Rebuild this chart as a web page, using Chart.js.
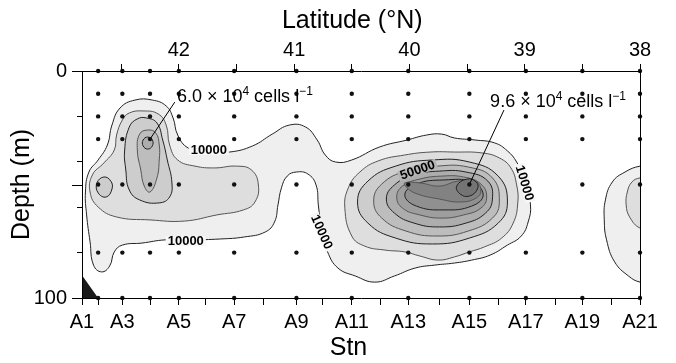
<!DOCTYPE html>
<html><head><meta charset="utf-8">
<script src="https://cdn.jsdelivr.net/npm/chart.js@4/dist/chart.umd.min.js"></script>
<style>html,body{margin:0;padding:0;background:#fff}#wrap{width:676px;height:363px}</style>
</head><body><div id="wrap"><canvas id="c"></canvas></div>
<script>
// ---------- data ----------
const stationNames = ['A1','A2','A3','A4','A5','A6','A7','A8','A9','A10','A11','A12','A13','A14','A15','A16','A17','A18','A19','A20','A21'];
const stationLat = [42.84,42.70,42.49,42.25,42.00,41.77,41.52,41.27,40.98,40.75,40.50,40.25,40.01,39.74,39.48,39.23,38.99,38.73,38.50,38.25,38.00];
const sampledStations = ['A2','A3','A4','A5','A7','A9','A11','A13','A15','A17','A19','A21'];
const sampleDepths = [0,10,20,30,50,80,100];
const latitudeLabels = [42,41,40,39,38];
const depthLabels = [0,50,100];

// contour outlines [latitude, depth]
const contour10k_main = [[40.50,39.2],[40.26,33.5],[40.02,30.4],[39.85,28.2],[39.72,27.8],[39.61,29.5],[39.43,30.4],[39.26,31.7],[39.15,35.2],[39.07,40.1],[39.00,48.0],[38.95,59.0],[38.97,66.5],[39.03,72.7],[39.15,76.7],[39.30,81.1],[39.46,83.3],[39.61,84.6],[39.78,85.5],[39.95,86.8],[40.13,90.3],[40.30,93.0],[40.47,90.3],[40.62,86.8],[40.71,79.7],[40.76,70.9],[40.79,59.0],[40.81,50.2],[40.88,45.4],[40.98,44.5],[41.06,46.3],[41.11,51.5],[41.14,59.0],[41.17,66.5],[41.25,70.9],[41.43,73.1],[41.64,74.0],[41.90,74.4],[42.12,74.4],[42.32,75.8],[42.49,76.7],[42.56,79.7],[42.60,85.9],[42.67,88.5],[42.74,85.5],[42.77,75.3],[42.80,63.4],[42.81,53.3],[42.78,44.5],[42.70,39.2],[42.62,32.6],[42.58,23.8],[42.51,16.3],[42.38,12.8],[42.23,12.8],[42.11,15.4],[42.05,20.7],[42.01,28.2],[41.92,33.9],[41.77,35.7],[41.56,35.7],[41.36,33.0],[41.19,27.8],[41.04,23.8],[40.90,24.7],[40.80,30.4],[40.73,37.0],[40.64,40.1]];
const contour20k_west = [[42.31,17.6],[42.18,18.9],[42.11,23.8],[42.08,32.6],[42.01,39.2],[41.86,41.9],[41.69,42.7],[41.50,41.9],[41.37,43.6],[41.31,50.2],[41.34,57.7],[41.44,61.2],[41.67,63.4],[41.95,66.1],[42.25,65.6],[42.54,64.3],[42.70,59.9],[42.77,53.3],[42.75,45.8],[42.65,40.5],[42.56,34.8],[42.54,28.2],[42.49,21.6],[42.43,18.5]];
const contour30k_west = [[42.28,20.7],[42.19,22.9],[42.14,30.4],[42.10,39.2],[42.06,49.3],[42.08,55.5],[42.17,58.1],[42.34,56.8],[42.43,52.4],[42.46,43.6],[42.47,34.8],[42.43,24.7],[42.36,21.1]];
const contour30k_a2 = [[42.65,46.7],[42.59,48.5],[42.58,52.0],[42.63,55.5],[42.70,53.7],[42.71,49.3]];
const contour40k_west = [[42.27,26.0],[42.20,27.3],[42.17,32.6],[42.17,39.2],[42.19,47.1],[42.25,53.3],[42.30,50.7],[42.33,43.6],[42.36,34.8],[42.34,27.8]];
const contour50k_west = [[42.27,29.1],[42.23,30.4],[42.23,33.0],[42.27,34.4],[42.31,33.0],[42.31,30.4]];
const contour20k_east = [[40.56,60.4],[40.53,51.5],[40.43,44.5],[40.27,39.6],[40.04,37.0],[39.82,35.7],[39.61,35.7],[39.37,36.1],[39.22,38.3],[39.12,42.7],[39.07,50.2],[39.06,58.1],[39.10,67.0],[39.20,73.6],[39.35,77.5],[39.48,79.7],[39.61,81.9],[39.75,83.3],[39.91,81.5],[40.04,79.7],[40.21,78.9],[40.39,77.1],[40.50,72.7]];
const contour30k_east = [[39.15,57.7],[39.23,67.0],[39.48,73.6],[39.80,76.2],[40.12,73.6],[40.36,67.0],[40.45,57.7],[40.36,48.5],[40.12,41.9],[39.80,39.2],[39.48,40.1],[39.23,46.3]];
const contour40k_east = [[39.22,57.3],[39.28,64.8],[39.49,70.5],[39.76,72.7],[40.03,70.5],[40.24,64.8],[40.31,57.3],[40.24,49.8],[40.03,44.1],[39.76,41.9],[39.49,42.3],[39.28,47.1]];
const contour50k_east = [[39.28,56.4],[39.34,62.6],[39.51,67.0],[39.74,68.7],[39.96,67.0],[40.13,62.6],[40.20,56.4],[40.13,50.2],[39.96,45.8],[39.74,44.1],[39.51,44.5],[39.32,48.5]];
const contour60k_east = [[39.33,55.5],[39.38,60.4],[39.53,63.4],[39.72,64.8],[39.91,63.4],[40.06,60.4],[40.11,55.5],[40.06,50.7],[39.91,47.6],[39.72,46.3],[39.53,46.7],[39.38,49.8]];
const contour70k_east = [[39.36,54.6],[39.46,59.5],[39.70,61.2],[39.94,59.5],[40.04,54.6],[39.94,49.8],[39.70,48.0],[39.46,48.9]];
const contour80k_east = [[40.04,49.3],[39.91,49.3],[39.74,50.7],[39.58,48.5],[39.43,48.5],[39.38,52.4],[39.42,55.9],[39.56,57.7],[39.74,56.4],[39.93,54.2],[40.02,51.5]];
const contour90k_east = [[39.50,47.6],[39.42,48.9],[39.41,52.0],[39.48,55.1],[39.56,54.2],[39.59,50.7]];
const contour10k_south = [[38.00,41.9],[38.13,44.5],[38.24,48.9],[38.30,56.8],[38.31,65.6],[38.29,74.4],[38.22,84.1],[38.10,90.3],[38.00,93.0],[37.90,93.0],[37.90,42.0]];
const contour20k_south = [[38.00,47.1],[38.07,48.9],[38.11,53.3],[38.12,59.0],[38.09,64.3],[38.00,69.2],[37.90,69.2],[37.90,47.1]];
const bottomTopo = [[42.84,90],[42.84,100],[42.70,100]];
const peakWest = [42.25,30];
const peakEast = [39.48,50];
const leaderWestEnd = [42.035,13.7];
const leaderEastEnd = [39.18,17.2];

// ---------- helpers ----------
const P = a => a.map(([x,y]) => ({x, y}));
const levelFill = ['#efefef','#dedede','#cdcdcd','#bdbdbd','#adadad','#9e9e9e','#909090','#828282','#747474'];
const levelLine = ['#222','#555','#222','#555','#222','#555','#222','#555','#222'];
function contourDs(pts, level){
  return {data:P(pts), showLine:true, fill:'shape', backgroundColor:levelFill[level-1],
    borderColor:levelLine[level-1], borderWidth:1, pointRadius:0, tension:0.45, closed:true, order:30-level};
}
const dots = [];
sampledStations.forEach(s => { const lat = stationLat[stationNames.indexOf(s)]; sampleDepths.forEach(d => dots.push({x:lat, y:d})); });

const datasets = [
  {data:dots, pointRadius:2.2, pointBackgroundColor:'#111', pointBorderWidth:0, showLine:false, order:0, clip:6},
  {data:P([peakWest, leaderWestEnd]), showLine:true, borderColor:'#000', borderWidth:1, pointRadius:0, order:1},
  {data:P([peakEast, leaderEastEnd]), showLine:true, borderColor:'#000', borderWidth:1, pointRadius:0, order:1},
  {data:P(bottomTopo), showLine:true, fill:'shape', backgroundColor:'#1a1a1a', borderColor:'#1a1a1a', borderWidth:1, pointRadius:0, tension:0, order:2},
  contourDs(contour10k_main,1),
  contourDs(contour10k_south,1),
  contourDs(contour20k_west,2),
  contourDs(contour20k_east,2),
  contourDs(contour20k_south,2),
  contourDs(contour30k_west,3),
  contourDs(contour30k_a2,3),
  contourDs(contour30k_east,3),
  contourDs(contour40k_west,4),
  contourDs(contour40k_east,4),
  contourDs(contour50k_west,5),
  contourDs(contour50k_east,5),
  contourDs(contour60k_east,6),
  contourDs(contour70k_east,7),
  contourDs(contour80k_east,8),
  contourDs(contour90k_east,9)
];

const loopPlugin = {
  id:'loop',
  afterDatasetUpdate(chart, args){
    const ds = chart.data.datasets[args.index];
    if (ds.closed) { args.meta.dataset._loop = true; args.meta.dataset._fullLoop = true; }
  }
};

const contourLabels = [
  {text:'10000', at:[41.74,34.8], rot:0, bg:'#f7f7f7'},
  {text:'10000', at:[41.94,74.9], rot:0, bg:'#f7f7f7'},
  {text:'10000', at:[40.76,70.9], rot:66, bg:'#f7f7f7'},
  {text:'10000', at:[39.00,49.3], rot:73, bg:'#f7f7f7'},
  {text:'50000', at:[39.93,43.6], rot:-19, bg:'#b5b5b5'}
];
const annotations = [
  {at:[42.017,13.7], parts:[['6.0 × 10',0],['4',1],[' cells l',0],['\u22121',1]]},
  {at:[39.30,15.9], parts:[['9.6 × 10',0],['4',1],[' cells l',0],['\u22121',1]]}
];
const FONT = "'Liberation Sans', Arial, Helvetica, sans-serif";

const overlayPlugin = {
  id:'overlay',
  afterDraw(chart){
    const {ctx, scales:{x, y}, chartArea} = chart;
    ctx.save();
    ctx.strokeStyle = '#000'; ctx.lineWidth = 1;
    depthLabels.forEach(v => { const py = Math.round(y.getPixelForValue(v)) + 0.5; ctx.beginPath(); ctx.moveTo(chartArea.left - 10, py); ctx.lineTo(chartArea.left, py); ctx.stroke(); });
    ctx.font = 'bold 13px ' + FONT; ctx.textAlign = 'center'; ctx.textBaseline = 'middle';
    contourLabels.forEach(l => {
      const px = x.getPixelForValue(l.at[0]), py = y.getPixelForValue(l.at[1]);
      ctx.save(); ctx.translate(px, py); ctx.rotate(l.rot * Math.PI / 180);
      const w = ctx.measureText(l.text).width;
      ctx.fillStyle = l.bg; ctx.fillRect(-w/2 - 2, -5, w + 4, 10);
      ctx.fillStyle = '#000'; ctx.fillText(l.text, 0, 0.5);
      ctx.restore();
    });
    ctx.textAlign = 'left'; ctx.textBaseline = 'alphabetic'; ctx.fillStyle = '#000';
    annotations.forEach(a => {
      let px = x.getPixelForValue(a.at[0]); const py = y.getPixelForValue(a.at[1]);
      a.parts.forEach(([t, sup]) => {
        ctx.font = (sup ? '12px ' : '18px ') + FONT;
        ctx.fillText(t, px, sup ? py - 7 : py);
        px += ctx.measureText(t).width;
      });
    });
    ctx.restore();
  }
};

const axisCommon = {min:38, max:stationLat[0], reverse:true};
new Chart(document.getElementById('c'), {
  type:'scatter',
  data:{datasets},
  plugins:[loopPlugin, overlayPlugin],
  options:{
    responsive:true, maintainAspectRatio:false, animation:false,
    layout:{padding:{left:0, right:36, top:0, bottom:0}},
    plugins:{legend:{display:false}, tooltip:{enabled:false}},
    scales:{
      x:{type:'linear', position:'bottom', ...axisCommon,
        afterBuildTicks: s => { s.ticks = stationLat.map(v => ({value:v})); },
        afterFit: s => { s.height = 65; },
        ticks:{autoSkip:false, maxRotation:0, padding:5, color:'#000', font:{size:20, family:FONT},
          callback:(v, i) => (i % 2 === 0 ? stationNames[i] : '')},
        grid:{drawOnChartArea:false, color:'#000', tickLength:7},
        border:{color:'#000', width:1, z:1},
        title:{display:true, text:'Stn\u2002\u2002', color:'#000', font:{size:25, family:FONT}, padding:{top:0, bottom:0}}
      },
      x2:{type:'linear', position:'top', axis:'x', ...axisCommon,
        afterBuildTicks: s => { const t = []; for (let v = 38; v <= 42.5 + 1e-9; v += 0.5) t.push({value:v}); s.ticks = t; },
        afterFit: s => { s.height = 71; },
        ticks:{autoSkip:false, maxRotation:0, padding:2, color:'#000', font:{size:20, family:FONT},
          callback:v => (latitudeLabels.includes(Math.round(v*10)/10) ? String(v) : '')},
        grid:{drawOnChartArea:false, color:'#000', tickLength:7},
        border:{color:'#000', width:1, z:1},
        title:{display:true, text:'Latitude (°N)\u2002\u2009', color:'#000', font:{size:25, family:FONT}, padding:{top:6, bottom:0}}
      },
      y:{type:'linear', position:'left', min:0, max:100, reverse:true,
        afterFit: s => { s.width = 82; },
        ticks:{stepSize:10, padding:10, color:'#000', font:{size:20, family:FONT},
          callback:v => (depthLabels.includes(v) ? String(v) : '')},
        grid:{drawOnChartArea:false, color:'#000', tickLength:5},
        border:{color:'#000', width:1, z:1},
        title:{display:true, text:'Depth (m)', color:'#000', font:{size:25, family:FONT}, padding:{top:7, bottom:0}}
      },
      y2:{type:'linear', position:'right', axis:'y', min:0, max:100, reverse:true,
        afterFit: s => { s.width = 0; },
        ticks:{display:false}, grid:{display:false, drawTicks:false},
        border:{display:true, color:'#000', width:1, z:1}
      }
    }
  }
});
</script>
</body></html>
